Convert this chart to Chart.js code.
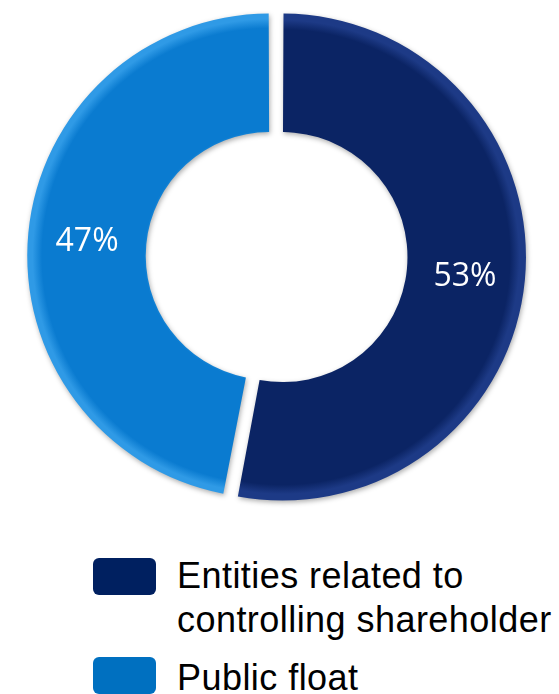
<!DOCTYPE html>
<html>
<head>
<meta charset="utf-8">
<script src="https://cdn.jsdelivr.net/npm/chart.js@4.4.1/dist/chart.umd.min.js"></script>
<style>
  html, body { margin: 0; padding: 0; background: #ffffff; }
  #wrap { position: relative; width: 559px; height: 694px; overflow: hidden; }
  #c { position: absolute; left: 0; top: 0; }
  .leg { position: absolute; left: 93px; font-family: "Liberation Sans", Arial, sans-serif; font-size: 36px; letter-spacing: 0.45px; line-height: 44px; color: #000; }
  .leg .box { position: absolute; left: 0; width: 63px; height: 37px; border-radius: 6px; }
  .leg .txt { position: absolute; left: 84px; top: 0; white-space: nowrap; }
</style>
</head>
<body>
<div id="wrap">
  <canvas id="c" width="559" height="520"></canvas>
  <div id="legend"></div>
</div>
<script>
// ---- data ----
const categories = [['Entities related to', 'controlling shareholder'], 'Public float'];
const shares = [53, 47];
const pctLabels = ['53%', '47%'];
const sliceColors = ['#0b2464', '#0a7bd0'];
const sliceEdge = ['#1d3a86', '#2f9ae6'];
const legendColors = ['#002060', '#0070c0'];

const OFFSET = 26;   // Chart.js v4 translates an arc by only part of this
const CUT = 0.5;

function sliceFill(context) {
  const i = context.dataIndex;
  const chart = context.chart;
  const meta = chart.getDatasetMeta(0);
  const arc = meta && meta.data ? meta.data[i] : null;
  const a = chart.chartArea;
  if (!a || !arc || !arc.outerRadius) return sliceColors[i];
  const cx = arc.x, cy = arc.y;
  const outer = arc.outerRadius;
  const inner = arc.innerRadius;
  const g = chart.ctx.createRadialGradient(cx, cy, 0, cx, cy, outer);
  const ri = inner / outer;
  g.addColorStop(0, sliceColors[i]);
  g.addColorStop(ri, sliceEdge[i]);
  g.addColorStop(Math.min(ri + 0.03, 1), sliceColors[i]);
  g.addColorStop(0.96, sliceColors[i]);
  g.addColorStop(1, sliceEdge[i]);
  return g;
}

const decor = {
  id: 'decor',
  beforeDatasetsDraw(chart) {
    const ctx = chart.ctx;
    // refresh gradient fills now that arc geometry is known
    const ds = chart.data.datasets[0];
    ctx.save();
    ctx.shadowColor = 'rgba(0,0,0,0.32)';
    ctx.shadowBlur = 5;
    ctx.shadowOffsetX = 1;
    ctx.shadowOffsetY = 2;
  },
  afterDatasetsDraw(chart) {
    const ctx = chart.ctx;
    ctx.restore();
    const meta = chart.getDatasetMeta(0);
    ctx.save();
    ctx.fillStyle = '#ffffff';
    ctx.font = '32px "Open Sans", "Noto Sans", sans-serif';
    ctx.textAlign = 'center';
    ctx.textBaseline = 'middle';
    meta.data.forEach((arc, i) => {
      const p = arc.getProps(['x', 'y', 'startAngle', 'endAngle', 'innerRadius', 'outerRadius']);
      const mid = (p.startAngle + p.endAngle) / 2;
      const r = (p.innerRadius + p.outerRadius) / 2 + 12;
      ctx.fillText(pctLabels[i], p.x + Math.cos(mid) * r, p.y + Math.sin(mid) * r + 3);
    });
    ctx.restore();
  }
};

const chart = new Chart(document.getElementById('c'), {
  type: 'doughnut',
  data: {
    labels: categories,
    datasets: [{
      data: shares,
      backgroundColor: sliceFill,
      borderWidth: 0,
      offset: OFFSET,
      hoverOffset: 0
    }]
  },
  options: {
    responsive: false,
    maintainAspectRatio: false,
    devicePixelRatio: 1,
    animation: false,
    cutout: (CUT * 100) + '%',
    layout: { padding: { left: 26, right: 33, top: 6, bottom: 13 } },
    plugins: {
      legend: { display: false },
      tooltip: { enabled: false }
    }
  },
  plugins: [decor]
});
// second pass so the gradients use the final arc geometry
chart.update('none');

// ---- HTML legend built from the same arrays ----
const legendTops = [554, 656];
const boxTops = [4, 1];
const legend = document.getElementById('legend');
categories.forEach((cat, i) => {
  const item = document.createElement('div');
  item.className = 'leg';
  item.style.top = legendTops[i] + 'px';
  const box = document.createElement('div');
  box.className = 'box';
  box.style.top = boxTops[i] + 'px';
  box.style.background = legendColors[i];
  const txt = document.createElement('div');
  txt.className = 'txt';
  const lines = Array.isArray(cat) ? cat : [cat];
  lines.forEach((ln) => {
    const d = document.createElement('div');
    d.textContent = ln;
    txt.appendChild(d);
  });
  item.appendChild(box);
  item.appendChild(txt);
  legend.appendChild(item);
});
</script>
</body>
</html>
